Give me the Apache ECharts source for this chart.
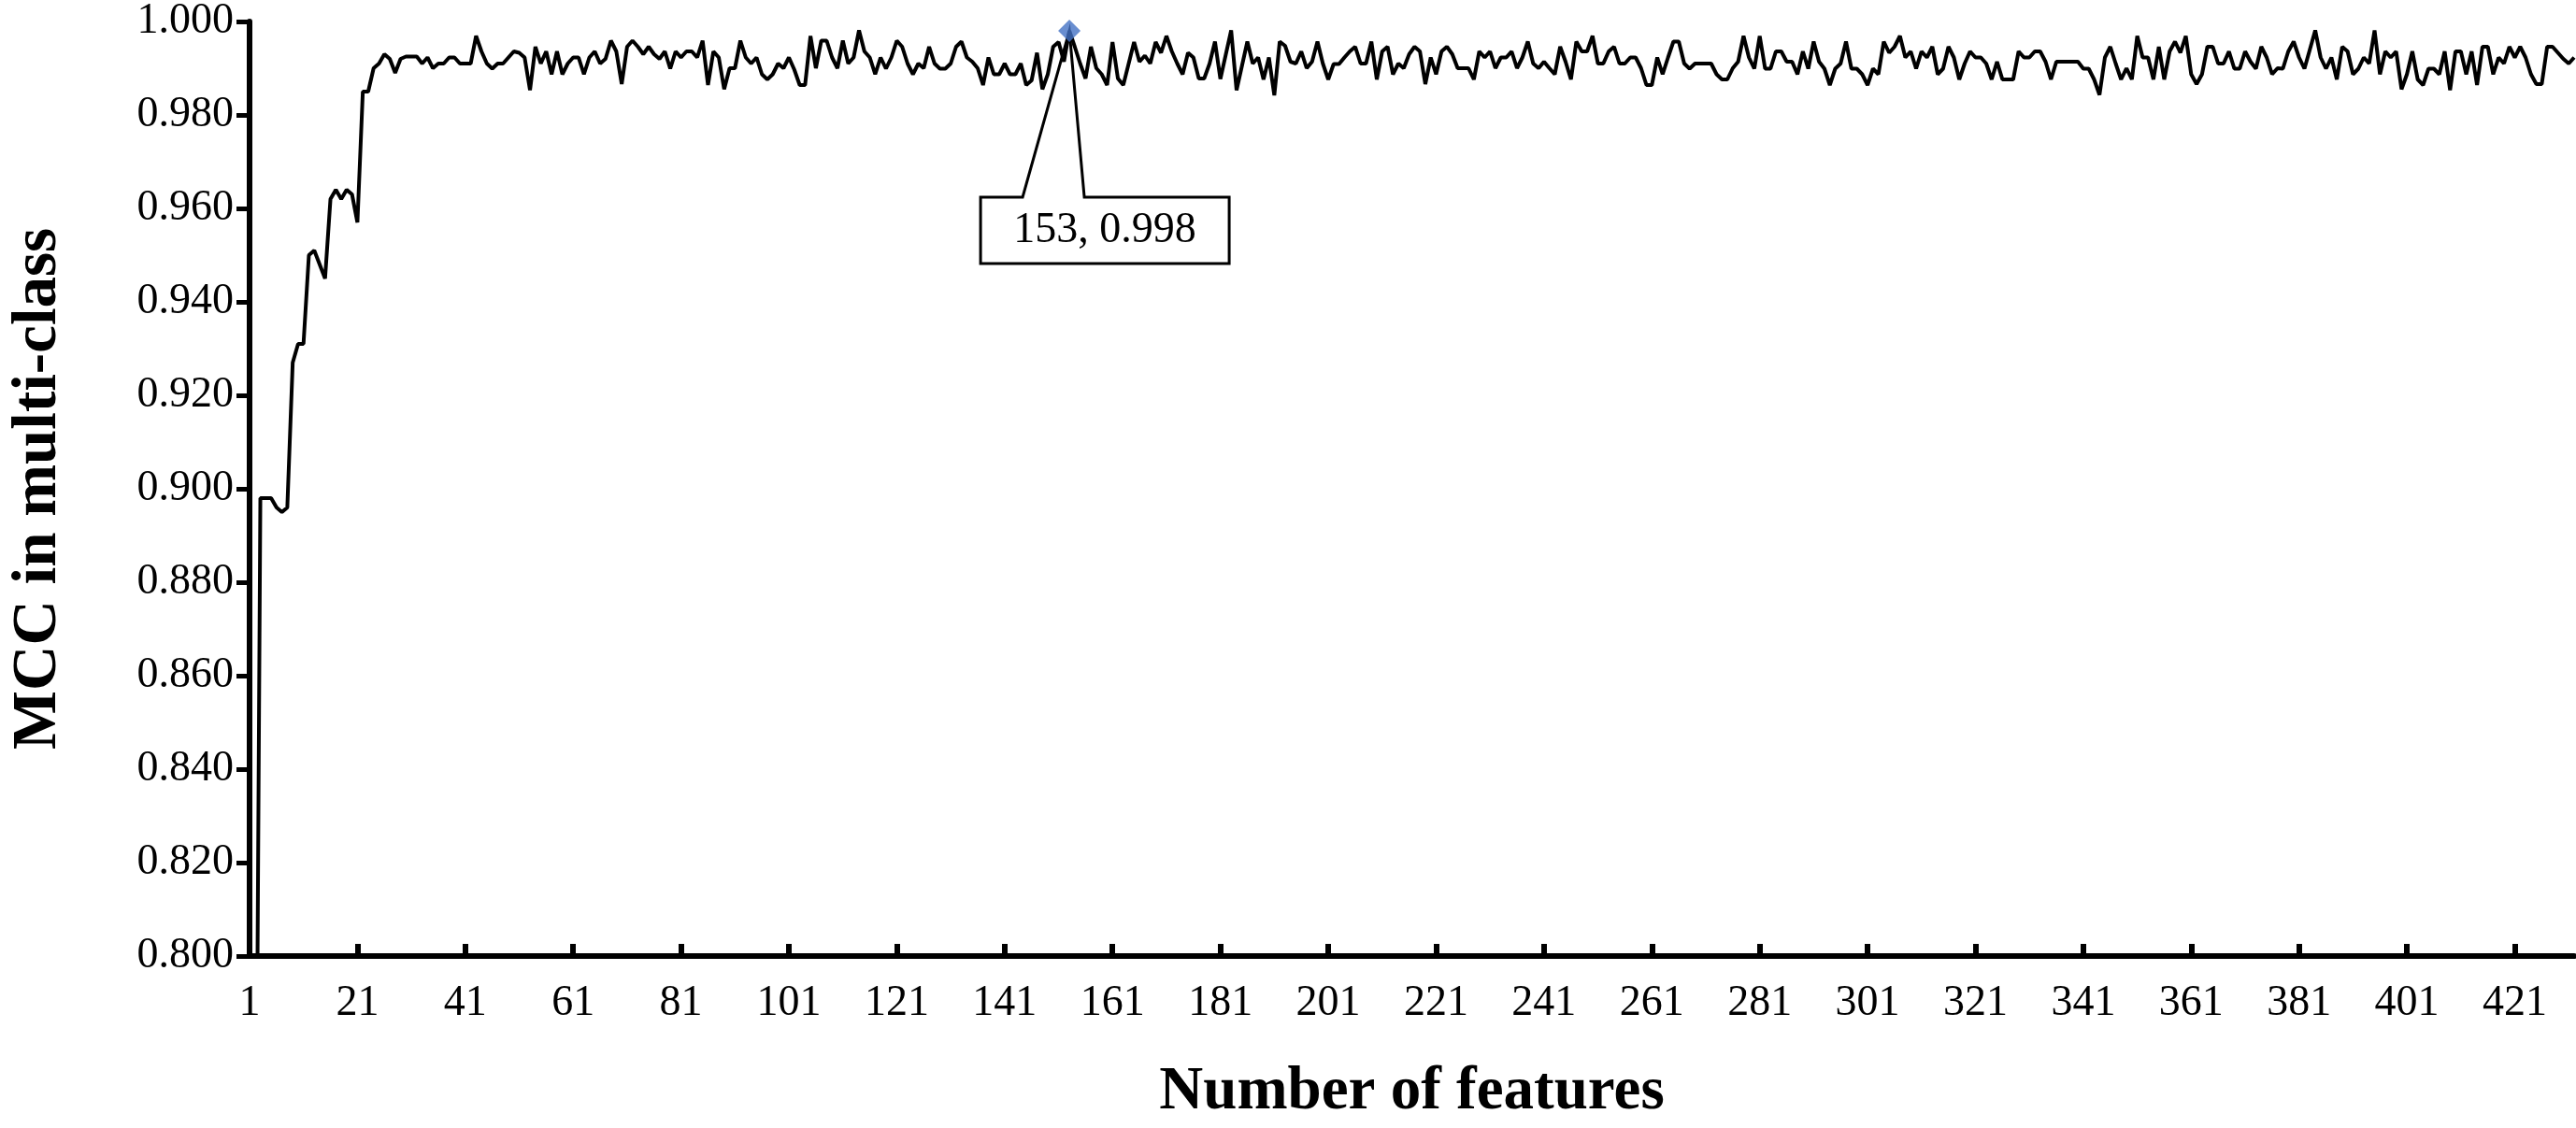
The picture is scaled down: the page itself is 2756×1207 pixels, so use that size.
<!DOCTYPE html>
<html>
<head>
<meta charset="utf-8">
<script src="https://cdn.jsdelivr.net/npm/echarts@6/dist/echarts.min.js"></script>
<style>
html,body{margin:0;padding:0;background:#fff;}
#chart{width:2756px;height:1207px;}
</style>
</head>
<body>
<div id="chart"></div>
<script>
// Number of features (categories)
const featureCounts = Array.from({length: 432}, (_, i) => String(i + 1));

// MCC values (first two fall below the axis minimum)
const mccValues = [
  0.62, 0.71, 0.898, 0.898, 0.898, 0.896, 0.895, 0.896, 0.927, 0.931,
  0.931, 0.950, 0.951, 0.948, 0.945, 0.962, 0.964, 0.962, 0.964, 0.963,
  0.957, 0.985, 0.985, 0.990, 0.991, 0.993, 0.992, 0.989, 0.992, 0.9925,
  0.9925, 0.9925, 0.9910, 0.9923, 0.9900, 0.9910, 0.9910, 0.9923, 0.9923, 0.9910,
  0.9910, 0.9910, 0.9969, 0.9936, 0.9910, 0.9899, 0.9910, 0.9910, 0.9923, 0.9936,
  0.9933, 0.9923, 0.9853, 0.9946, 0.9910, 0.9936, 0.9887, 0.9936, 0.9887, 0.9910,
  0.9923, 0.9923, 0.9887, 0.9923, 0.9936, 0.9910, 0.9920, 0.9959, 0.9936, 0.9866,
  0.9946, 0.9959, 0.9946, 0.9930, 0.9946, 0.9930, 0.9920, 0.9936, 0.9899, 0.9936,
  0.9923, 0.9936, 0.9936, 0.9923, 0.9959, 0.9864, 0.9936, 0.9923, 0.9855, 0.9900,
  0.9900, 0.9959, 0.9923, 0.9910, 0.9923, 0.9887, 0.9876, 0.9887, 0.9910, 0.9900,
  0.9923, 0.9897, 0.9864, 0.9864, 0.9969, 0.9900, 0.9959, 0.9959, 0.9923, 0.9900,
  0.9959, 0.9910, 0.9923, 0.9981, 0.9936, 0.9923, 0.9887, 0.9923, 0.9899, 0.9923,
  0.9959, 0.9946, 0.9910, 0.9887, 0.9910, 0.9900, 0.9946, 0.9910, 0.9899, 0.9899,
  0.9910, 0.9946, 0.9957, 0.9923, 0.9914, 0.9900, 0.9864, 0.9923, 0.9887, 0.9887,
  0.9910, 0.9887, 0.9887, 0.9910, 0.9864, 0.9874, 0.9933, 0.9855, 0.9887, 0.9946,
  0.9956, 0.9914, 0.9980, 0.9946, 0.9910, 0.9878, 0.9946, 0.9900, 0.9887, 0.9864,
  0.9956, 0.9878, 0.9864, 0.9910, 0.9956, 0.9914, 0.9927, 0.9910, 0.9956, 0.9933,
  0.9969, 0.9936, 0.9910, 0.9887, 0.9933, 0.9923, 0.9878, 0.9878, 0.9910, 0.9957,
  0.9877, 0.9929, 0.9981, 0.9853, 0.9905, 0.9957, 0.9910, 0.9923, 0.9876, 0.9923,
  0.9842, 0.9957, 0.9948, 0.9914, 0.9910, 0.9936, 0.9900, 0.9914, 0.9957, 0.9910,
  0.9876, 0.9909, 0.9909, 0.9923, 0.9936, 0.9946, 0.9910, 0.9910, 0.9957, 0.9876,
  0.9936, 0.9946, 0.9887, 0.9910, 0.9900, 0.9930, 0.9946, 0.9936, 0.9866, 0.9923,
  0.9887, 0.9936, 0.9946, 0.9930, 0.9900, 0.9900, 0.9900, 0.9876, 0.9936, 0.9923,
  0.9936, 0.9900, 0.9923, 0.9923, 0.9936, 0.9900, 0.9923, 0.9957, 0.9910, 0.9900,
  0.9914, 0.9900, 0.9887, 0.9946, 0.9914, 0.9876, 0.9957, 0.9936, 0.9936, 0.9969,
  0.9910, 0.9910, 0.9936, 0.9946, 0.9910, 0.9910, 0.9923, 0.9923, 0.9900, 0.9864,
  0.9864, 0.9923, 0.9887, 0.9923, 0.9957, 0.9957, 0.9910, 0.9899, 0.9910, 0.9910,
  0.9910, 0.9910, 0.9887, 0.9876, 0.9876, 0.9900, 0.9914, 0.9969, 0.9923, 0.9899,
  0.9969, 0.9899, 0.9899, 0.9936, 0.9936, 0.9914, 0.9914, 0.9887, 0.9936, 0.9899,
  0.9957, 0.9914, 0.9899, 0.9864, 0.9899, 0.9910, 0.9957, 0.9899, 0.9899, 0.9887,
  0.9864, 0.9899, 0.9887, 0.9957, 0.9933, 0.9946, 0.9969, 0.9923, 0.9936, 0.9899,
  0.9936, 0.9923, 0.9946, 0.9887, 0.9899, 0.9946, 0.9923, 0.9876, 0.9910, 0.9936,
  0.9923, 0.9923, 0.9910, 0.9876, 0.9914, 0.9876, 0.9876, 0.9876, 0.9936, 0.9923,
  0.9923, 0.9936, 0.9936, 0.9914, 0.9876, 0.9914, 0.9914, 0.9914, 0.9914, 0.9914,
  0.9899, 0.9899, 0.9876, 0.9843, 0.9923, 0.9946, 0.9910, 0.9876, 0.9900, 0.9876,
  0.9969, 0.9923, 0.9923, 0.9876, 0.9946, 0.9876, 0.9936, 0.9957, 0.9933, 0.9969,
  0.9887, 0.9866, 0.9887, 0.9946, 0.9946, 0.9910, 0.9910, 0.9936, 0.9899, 0.9899,
  0.9936, 0.9914, 0.9899, 0.9946, 0.9923, 0.9887, 0.9900, 0.9899, 0.9936, 0.9957,
  0.9923, 0.9899, 0.9940, 0.9981, 0.9923, 0.9899, 0.9923, 0.9876, 0.9946, 0.9936,
  0.9887, 0.9899, 0.9923, 0.9910, 0.9981, 0.9887, 0.9936, 0.9923, 0.9936, 0.9855,
  0.9887, 0.9936, 0.9876, 0.9864, 0.9899, 0.9899, 0.9887, 0.9936, 0.9853, 0.9936,
  0.9936, 0.9887, 0.9936, 0.9864, 0.9946, 0.9946, 0.9887, 0.9923, 0.9910, 0.9946,
  0.9923, 0.9946, 0.9923, 0.9887, 0.9866, 0.9866, 0.9946, 0.9946, 0.9933, 0.9920,
  0.9910, 0.9923
];

// Highlighted best point
const bestFeature = '153';
const bestValue = 0.998;

// Axis settings
const yMin = 0.8, yMax = 1.0, yStep = 0.02;
const xAxisTitle = 'Number of features';
const yAxisTitle = 'MCC in multi-class';

const FONT = '"Liberation Serif", "Times New Roman", serif';

const chart = echarts.init(document.getElementById('chart'), null, {renderer: 'canvas'});
const bestIndex = featureCounts.indexOf(bestFeature);

chart.setOption({
  animation: false,
  backgroundColor: '#ffffff',
  grid: {left: 254, right: 2, top: 18, bottom: 157, containLabel: false},
  xAxis: {
    type: 'category',
    data: featureCounts,
    boundaryGap: false,
    name: xAxisTitle,
    nameLocation: 'middle',
    nameGap: 114,
    nameTextStyle: {fontFamily: FONT, fontWeight: 'bold', fontSize: 65, color: '#000'},
    axisLine: {lineStyle: {color: '#000', width: 6}},
    axisTick: {show: true, inside: true, length: 13, interval: 19, lineStyle: {color: '#000', width: 6}},
    axisLabel: {interval: 19, margin: 28, fontFamily: FONT, fontSize: 46, color: '#000'},
    splitLine: {show: false}
  },
  yAxis: {
    type: 'value',
    min: yMin, max: yMax, interval: yStep,
    name: yAxisTitle,
    nameLocation: 'middle',
    nameRotate: 90,
    nameGap: 192,
    nameTextStyle: {fontFamily: FONT, fontWeight: 'bold', fontSize: 67, color: '#000'},
    axisLine: {show: true, lineStyle: {color: '#000', width: 6}},
    axisTick: {show: true, inside: false, length: 14, lineStyle: {color: '#000', width: 5}},
    axisLabel: {margin: 17, fontFamily: FONT, fontSize: 46, color: '#000',
      formatter: v => v.toFixed(3)},
    splitLine: {show: false}
  },
  series: [
    {
      type: 'custom',
      z: 1,
      clip: false,
      data: [[bestIndex, bestValue]],
      renderItem: function (params, api) {
        const p = api.coord([api.value(0), api.value(1)]);
        const x = p[0], y = p[1];
        return {
          type: 'group',
          children: [
            {type: 'polygon',
             shape: {points: [[x - 95, y + 178], [x - 50, y + 178], [x, y], [x + 16, y + 178],
                              [x + 171, y + 178], [x + 171, y + 249], [x - 95, y + 249]]},
             style: {fill: '#ffffff', stroke: '#000000', lineWidth: 3}},
            {type: 'text',
             style: {text: bestFeature + ', ' + bestValue.toFixed(3), x: x + 38, y: y + 214,
                     align: 'center', verticalAlign: 'middle',
                     font: '46px "Liberation Serif", "Times New Roman", serif', fill: '#000'}}
          ]
        };
      }
    },
    {
      type: 'line',
      z: 2,
      data: mccValues,
      symbol: 'none',
      lineStyle: {color: '#000', width: 4},
      clip: true
    },
    {
      type: 'scatter',
      z: 3,
      data: [[bestIndex, bestValue]],
      symbol: 'diamond',
      symbolSize: 24,
      itemStyle: {color: '#4472C4'}
    }
  ]
});
</script>
</body>
</html>
